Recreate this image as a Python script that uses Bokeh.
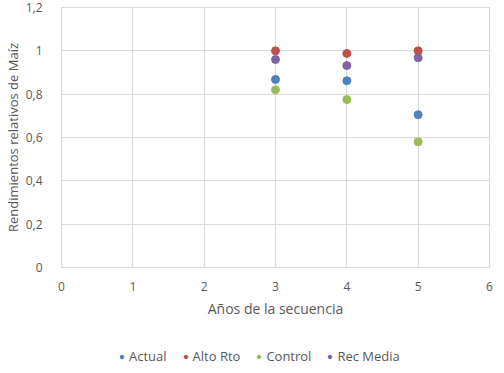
from bokeh.plotting import figure
from bokeh.layouts import column
from bokeh.models import FixedTicker, Legend, LegendItem, Range1d
from bokeh.embed import file_html
from bokeh.resources import INLINE

years = [3, 4, 5]
actual = [0.868, 0.862, 0.705]
alto_rto = [1.0, 0.988, 1.0]
control = [0.82, 0.775, 0.58]
rec_media = [0.96, 0.932, 0.968]

series_names = ["Actual", "Alto Rto", "Control", "Rec Media"]
series_values = [actual, alto_rto, control, rec_media]
colors = ["#4F81BD", "#C0504D", "#9BBB59", "#8064A2"]

x_ticks = [0, 1, 2, 3, 4, 5, 6]
y_ticks = [0, 0.2, 0.4, 0.6, 0.8, 1.0, 1.2]
y_tick_labels = ["0", "0,2", "0,4", "0,6", "0,8", "1", "1,2"]

FONT = "Open Sans"
GRID = "#D9D9D9"
TXT = "#595959"

p = figure(width=496, height=327, output_backend="svg", toolbar_location=None,
           x_range=Range1d(0, 6), y_range=Range1d(0, 1.2),
           min_border_left=61, min_border_right=7, min_border_top=7, min_border_bottom=60)

p.outline_line_color = GRID
p.xgrid.grid_line_color = GRID
p.ygrid.grid_line_color = GRID
p.xaxis.ticker = FixedTicker(ticks=x_ticks)
p.yaxis.ticker = FixedTicker(ticks=y_ticks)
p.yaxis.major_label_overrides = {t: l for t, l in zip(y_ticks, y_tick_labels)}
for ax in (p.xaxis, p.yaxis):
    ax.axis_line_color = GRID
    ax.major_tick_line_color = None
    ax.minor_tick_line_color = None
    ax.major_label_text_font = FONT
    ax.major_label_text_font_size = "12px"
    ax.major_label_text_color = TXT
    ax.axis_label_text_font = FONT
    ax.axis_label_text_color = TXT
    ax.axis_label_text_font_style = "normal"
p.xaxis.axis_label_text_font_size = "14px"
p.yaxis.axis_label_text_font_size = "13px"
p.xaxis.axis_label = "Años de la secuencia"
p.yaxis.axis_label = "Rendimientos relativos de Maíz"
p.xaxis.major_label_standoff = 8
p.yaxis.major_label_standoff = 13
p.xaxis.axis_label_standoff = 5
p.yaxis.axis_label_standoff = 1

for vals, c in zip(series_values, colors):
    p.scatter(years, vals, size=8, fill_color=c, line_color=c)

# legend strip below the chart
lg = figure(width=496, height=38, output_backend="svg", toolbar_location=None,
            x_range=Range1d(0, 1), y_range=Range1d(0, 1),
            min_border_left=0, min_border_right=0, min_border_top=0, min_border_bottom=0)
lg.axis.visible = False
lg.grid.visible = False
lg.outline_line_color = None
items = []
for name, vals, c in zip(series_names, series_values, colors):
    r = lg.scatter(years, vals, size=8, fill_color=c, line_color=c)
    items.append(LegendItem(label=name, renderers=[r]))
legend = Legend(items=items, orientation="horizontal", location=(56, 0),
                label_text_font=FONT, label_text_font_size="13px", label_text_color=TXT,
                glyph_width=9, glyph_height=9, spacing=14, label_standoff=3,
                padding=0, margin=0, border_line_color=None, background_fill_alpha=0)
lg.add_layout(legend, "center")

layout = column(p, lg, spacing=0)
open("out.html", "w").write(file_html(layout, INLINE))
